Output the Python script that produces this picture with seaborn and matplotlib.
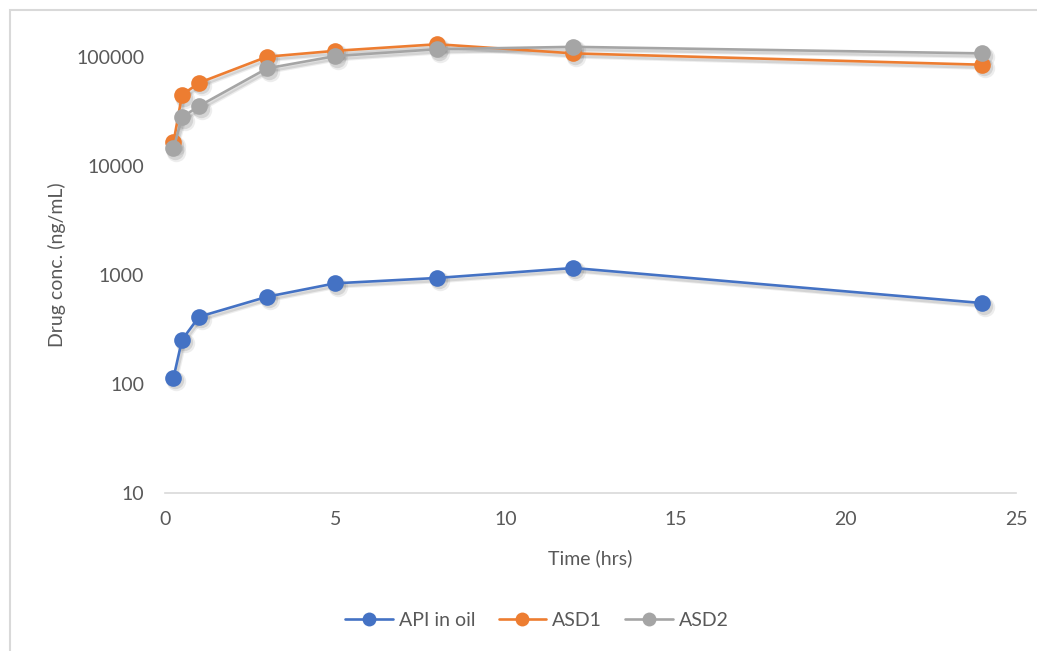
import numpy as np
import pandas as pd
import seaborn as sns
import matplotlib
matplotlib.use("Agg")
import matplotlib.pyplot as plt
from matplotlib.transforms import offset_copy
from matplotlib.patches import Rectangle

# Sampling times (hours) and plasma concentrations (ng/mL)
time_hrs = [0.25, 0.5, 1, 3, 5, 8, 12, 24]
api_in_oil = [114, 254, 414, 632, 839, 940, 1160, 553]
asd1 = [16500, 44800, 58000, 100700, 114000, 131000, 108000, 85000]
asd2 = [14500, 28000, 35500, 78700, 102000, 118000, 124000, 108000]

series_names = ["API in oil", "ASD1", "ASD2"]
series_values = [api_in_oil, asd1, asd2]
colors = ["#4472C4", "#ED7D31", "#A5A5A5"]

x_ticks = [0, 5, 10, 15, 20, 25]
y_ticks = [10, 100, 1000, 10000, 100000]

df = pd.DataFrame({
    "Time (hrs)": np.tile(time_hrs, len(series_names)),
    "conc": np.concatenate(series_values),
    "series": np.repeat(series_names, len(time_hrs)),
})

sns.set_theme(style="white")
plt.rcParams["font.family"] = ["Lato", "DejaVu Sans"]
text_color = "#595959"
fs = 14

fig = plt.figure(figsize=(10.37, 6.51), dpi=100)
ax = fig.add_axes([0.1591, 0.2427, 0.8207, 0.7201])

# soft drop shadows under each series
for dx, dy, ms, a in [(2.5, -3.5, 14.0, 0.10), (1.5, -2.5, 12.5, 0.16)]:
    tr = offset_copy(ax.transData, fig=fig, x=dx, y=dy, units="dots")
    for vals in series_values:
        ax.plot(time_hrs, vals, color="#555555", alpha=a, lw=2.6,
                marker="o", markersize=ms, markeredgewidth=0,
                transform=tr, zorder=1)

sns.lineplot(data=df, x="Time (hrs)", y="conc", hue="series",
             hue_order=series_names, palette=colors, marker="o",
             markersize=12, markeredgewidth=0, linewidth=1.9,
             ax=ax, legend=False, zorder=3)

ax.set_yscale("log")
ax.set_xlim(0, 25)
ax.set_ylim(10, 2e5)
ax.set_xticks(x_ticks)
ax.set_xticklabels([str(t) for t in x_ticks])
ax.set_yticks(y_ticks)
ax.set_yticklabels([str(t) for t in y_ticks])
ax.yaxis.set_minor_locator(matplotlib.ticker.NullLocator())
ax.tick_params(axis="both", length=0, labelsize=fs, labelcolor=text_color)
ax.tick_params(axis="y", pad=15)
ax.tick_params(axis="x", pad=13)

for side in ["top", "right", "left"]:
    ax.spines[side].set_visible(False)
ax.spines["bottom"].set_color("#D9D9D9")
ax.spines["bottom"].set_linewidth(1.2)
ax.grid(False)

ax.set_xlabel("Time (hrs)", fontsize=fs, color=text_color, labelpad=15)
ax.set_ylabel("")
fig.text(57 / 1037, 1 - 265 / 651, "Drug conc. (ng/mL)", rotation=90,
         ha="center", va="center", fontsize=fs, color=text_color)

# legend along the bottom
handles = [plt.Line2D([], [], color=c, lw=1.9, marker="o", markersize=10,
                      markeredgewidth=0) for c in colors]
fig.legend(handles, series_names, loc="center", ncol=3,
           bbox_to_anchor=(537 / 1037, 1 - 620 / 651), frameon=False,
           fontsize=fs, labelcolor=text_color, handlelength=2.45,
           handletextpad=0.3, columnspacing=1.2)

# outer chart border (top and left edges)
fig.patches.append(Rectangle((10 / 1037, -0.1), 1.2, 1 - 10 / 651 + 0.1,
                             transform=fig.transFigure, fill=False,
                             edgecolor="#D9D9D9", linewidth=1.5))

fig.savefig("out.png", dpi=100, facecolor="white")
